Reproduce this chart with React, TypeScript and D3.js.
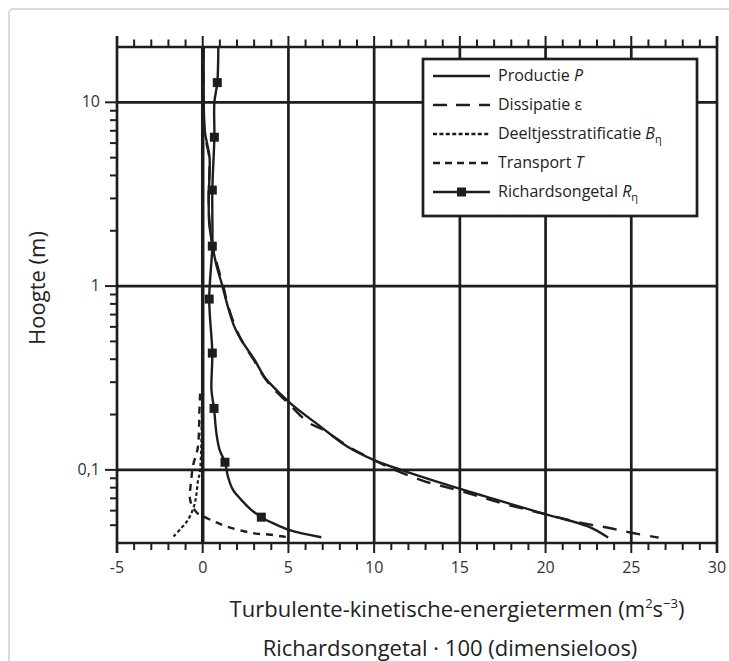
import React from 'react';
import * as d3 from 'd3';

// Axis ticks
const xTickValues = [-5, 0, 5, 10, 15, 20, 25, 30];
const yTickValues = [0.1, 1, 10];
const yTickLabels = ['0,1', '1', '10'];

// Productie P  (height in m, value)
const prodH = [20, 7, 6, 5, 3, 2.2, 1.7, 1.3, 1.0, 0.8, 0.6, 0.5, 0.4, 0.32, 0.3, 0.23, 0.172, 0.134, 0.113, 0.1, 0.0785, 0.0569, 0.0492, 0.0428];
const prodV = [0.05, 0.12, 0.25, 0.4, 0.35, 0.38, 0.55, 0.8, 1.15, 1.42, 1.85, 2.3, 3.0, 3.6, 3.85, 5.12, 6.87, 8.43, 10.0, 11.56, 15.07, 20.14, 22.48, 23.65];

// Dissipatie epsilon
const dissH = [20, 7, 6, 5, 3, 2.2, 1.7, 1.3, 1.0, 0.8, 0.6, 0.5, 0.4, 0.3, 0.23, 0.18, 0.165, 0.134, 0.113, 0.104, 0.088, 0.0753, 0.066, 0.059, 0.0515, 0.0484, 0.0455, 0.0428];
const dissV = [0.05, 0.1, 0.22, 0.38, 0.35, 0.4, 0.57, 0.85, 1.2, 1.45, 1.9, 2.3, 2.95, 3.8, 5.0, 6.2, 7.05, 8.5, 10.0, 10.78, 12.73, 15.36, 17.4, 19.46, 22.09, 23.65, 25.0, 26.6];

// Deeltjesstratificatie B
const stratH = [0.2, 0.12, 0.096, 0.088, 0.0747, 0.0659, 0.0582, 0.0524, 0.0482, 0.0434];
const stratV = [-0.05, -0.1, -0.18, -0.27, -0.36, -0.46, -0.66, -0.92, -1.25, -1.7];

// Transport T
const transH = [0.26, 0.2, 0.16, 0.13, 0.105, 0.09, 0.08, 0.072, 0.065, 0.058, 0.056, 0.052, 0.049, 0.0465, 0.045, 0.0445, 0.0435, 0.043];
const transV = [-0.15, -0.2, -0.22, -0.3, -0.57, -0.66, -0.72, -0.76, -0.66, -0.3, 0, 0.75, 1.46, 2.35, 3.1, 3.85, 4.6, 5.0];

// Richardsongetal * 100
const riH = [20, 12.8, 10, 6.46, 3.33, 1.65, 0.85, 0.432, 0.272, 0.216, 0.158, 0.128, 0.11, 0.092, 0.078, 0.0687, 0.0606, 0.0553, 0.0513, 0.047, 0.043];
const riV = [0.91, 0.85, 0.68, 0.68, 0.56, 0.56, 0.38, 0.56, 0.51, 0.66, 0.8, 0.99, 1.3, 1.47, 1.76, 2.25, 2.83, 3.42, 4.1, 5.07, 6.92];
const riMarkerH = [12.8, 6.46, 3.33, 1.65, 0.85, 0.432, 0.216, 0.11, 0.0553];
const riMarkerV = [0.85, 0.68, 0.56, 0.56, 0.38, 0.56, 0.66, 1.3, 3.42];

const W = 729;
const H = 661;
const left = 117;
const right = 717;
const top = 47;
const bottom = 543;
const ink = '#1e1e1e';
const font = "'Open Sans', sans-serif";

const x = d3.scaleLinear().domain([-5, 30]).range([left, right]);
const y = d3.scaleLog().domain([0.04, 20]).range([bottom, top]);

const line = d3.line<[number, number]>()
  .x(d => x(d[1]))
  .y(d => y(d[0]))
  .curve(d3.curveCatmullRom.alpha(0.5));

const zip = (hs: number[], vs: number[]) => hs.map((h, i) => [h, vs[i]] as [number, number]);

const minorY: number[] = [];
[0.01, 0.1, 1, 10].forEach(dec => {
  for (let k = 2; k <= 9; k++) {
    const v = k * dec;
    if (v > 0.04 && v < 20) minorY.push(v);
  }
});
const xUnits = d3.range(-5, 31, 1);

const legendItems = [
  { label: ['Productie ', 'P', ''], dash: null as string | null, marker: false },
  { label: ['Dissipatie ', '', 'ε'], dash: '14,9', marker: false },
  { label: ['Deeltjesstratificatie ', 'B', 'η'], dash: '4,2.4', marker: false },
  { label: ['Transport ', 'T', ''], dash: '7,5', marker: false },
  { label: ['Richardsongetal ', 'R', 'η'], dash: null, marker: true },
];

export default function App() {
  return (
    <svg width={W} height={H} style={{ position: 'absolute', left: 0, top: 0, background: '#fff' }}>
      <rect x={9} y={9} width={740} height={700} rx={4} fill="none" stroke="#dcdcdc" strokeWidth={2} />

      {/* grid */}
      {xTickValues.filter(v => v > -5 && v < 30).map(v => (
        <line key={'gx' + v} x1={x(v)} x2={x(v)} y1={top} y2={bottom} stroke={ink} strokeWidth={v === 0 ? 3.5 : 2.7} />
      ))}
      {yTickValues.map(v => (
        <line key={'gy' + v} x1={left} x2={right} y1={y(v)} y2={y(v)} stroke={ink} strokeWidth={2.7} />
      ))}

      {/* frame */}
      <line x1={left} x2={left} y1={top - 11} y2={bottom + 10} stroke={ink} strokeWidth={2.7} />
      <line x1={right} x2={right} y1={top - 11} y2={bottom + 10} stroke={ink} strokeWidth={2.7} />
      <line x1={left} x2={right} y1={top} y2={top} stroke={ink} strokeWidth={2.7} />
      <line x1={left} x2={right} y1={bottom} y2={bottom} stroke={ink} strokeWidth={2.7} />

      {/* top and bottom ticks */}
      {xUnits.map(v => {
        const major = v % 5 === 0;
        return (
          <g key={'tx' + v}>
            <line x1={x(v)} x2={x(v)} y1={top} y2={top - (major ? 11 : 7.5)} stroke={ink} strokeWidth={2} />
            <line x1={x(v)} x2={x(v)} y1={bottom} y2={bottom + (major ? 10 : 7)} stroke={ink} strokeWidth={2} />
          </g>
        );
      })}
      {/* left ticks */}
      {minorY.map(v => (
        <line key={'my' + v} x1={left} x2={left - 7} y1={y(v)} y2={y(v)} stroke={ink} strokeWidth={2} />
      ))}
      {yTickValues.map(v => (
        <line key={'ty' + v} x1={left} x2={left - 12} y1={y(v)} y2={y(v)} stroke={ink} strokeWidth={2} />
      ))}

      {/* tick labels */}
      {xTickValues.map(v => (
        <text key={'lx' + v} x={x(v)} y={bottom + 30} textAnchor="middle" fontFamily={font} fontSize={16} fill="#333">{v}</text>
      ))}
      {yTickValues.map((v, i) => (
        <text key={'ly' + v} x={left - 17} y={y(v) + 5} textAnchor="end" fontFamily={font} fontSize={16} fill="#333">{yTickLabels[i]}</text>
      ))}

      {/* curves */}
      <g fill="none" stroke={ink} strokeWidth={2.4}>
        <path d={line(zip(stratH, stratV)) || ''} strokeDasharray="3.5,2.5" strokeWidth={2.2} />
        <path d={line(zip(transH, transV)) || ''} strokeDasharray="7,6" />
        <path d={line(zip(dissH, dissV)) || ''} strokeDasharray="14,10" />
        <path d={line(zip(prodH, prodV)) || ''} />
        <path d={line(zip(riH, riV)) || ''} />
      </g>
      {riMarkerH.map((h, i) => (
        <rect key={'m' + i} x={x(riMarkerV[i]) - 4.5} y={y(h) - 4.5} width={9} height={9} fill={ink} />
      ))}

      {/* legend */}
      <rect x={423} y={59} width={274} height={157} fill="#fff" stroke={ink} strokeWidth={2.7} />
      {legendItems.map((it, i) => {
        const ly = 76 + i * 29;
        return (
          <g key={'lg' + i}>
            <line x1={433} x2={490} y1={ly} y2={ly} stroke={ink} strokeWidth={2.4} strokeDasharray={it.dash || undefined} />
            {it.marker && <rect x={461.5 - 4.5} y={ly - 4.5} width={9} height={9} fill={ink} />}
            <text x={498} y={ly + 5} fontFamily={font} fontSize={16} fill="#222">
              <tspan>{it.label[0]}</tspan>
              {it.label[1] && <tspan fontStyle="italic">{it.label[1]}</tspan>}
              {it.label[2] && (it.label[1]
                ? <tspan fontSize={11} dy={4}>{it.label[2]}</tspan>
                : <tspan>{it.label[2]}</tspan>)}
            </text>
          </g>
        );
      })}

      {/* axis titles */}
      <text transform={`translate(45,288) rotate(-90)`} textAnchor="middle" fontFamily={font} fontSize={22} fill="#222">Hoogte (m)</text>
      <text x={457} y={617} textAnchor="middle" fontFamily={font} fontSize={22} fill="#222">
        Turbulente-kinetische-energietermen (m<tspan fontSize={13} dy={-9}>2</tspan><tspan dy={9}>s</tspan><tspan fontSize={13} dy={-9}>−3</tspan><tspan dy={9}>)</tspan>
      </text>
      <text x={450} y={656} textAnchor="middle" fontFamily={font} fontSize={22} fill="#222">Richardsongetal · 100 (dimensieloos)</text>
    </svg>
  );
}
